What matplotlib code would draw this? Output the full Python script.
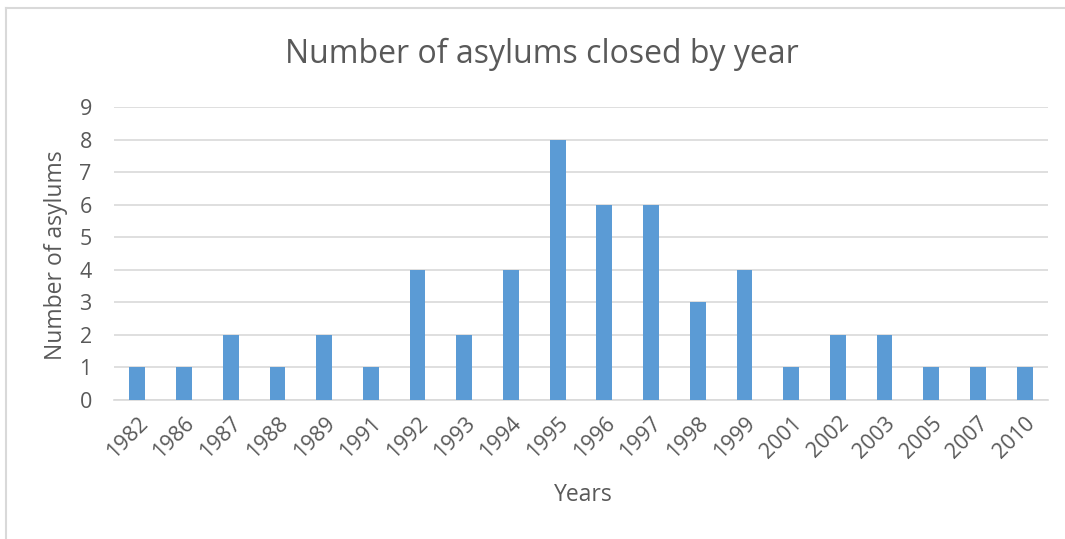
import matplotlib
matplotlib.use("Agg")
import matplotlib.pyplot as plt
from matplotlib.lines import Line2D

years = ["1982", "1986", "1987", "1988", "1989", "1991", "1992", "1993", "1994", "1995",
         "1996", "1997", "1998", "1999", "2001", "2002", "2003", "2005", "2007", "2010"]
counts = [1, 1, 2, 1, 2, 1, 4, 2, 4, 8, 6, 6, 3, 4, 1, 2, 2, 1, 1, 1]
yticks = [0, 1, 2, 3, 4, 5, 6, 7, 8, 9]

plt.rcParams['font.family'] = ['Open Sans', 'DejaVu Sans']
txt = '#595959'

fig = plt.figure(figsize=(10.65, 5.39), dpi=100)
ax = fig.add_axes([114/1065, 1-400/539, (1048-114)/1065, (400-107)/539])

x = list(range(len(years)))
ax.bar(x, counts, width=0.34, color='#5B9BD5', zorder=3)
ax.set_xlim(-0.5, len(years)-0.5)
ax.set_ylim(0, 9)
ax.set_yticks(yticks)
ax.set_yticklabels([str(v) for v in yticks], fontsize=15.5, color=txt)
ax.set_xticks(x)
ax.set_xticklabels(years, rotation=45, ha='right', va='top', rotation_mode='anchor',
                   fontsize=15.5, color=txt)
ax.tick_params(axis='both', length=0)
ax.tick_params(axis='y', pad=16)
ax.tick_params(axis='x', pad=9)
ax.grid(axis='y', color='#D9D9D9', linewidth=1.2, zorder=0)
for s in ['top', 'right', 'left']:
    ax.spines[s].set_visible(False)
ax.spines['bottom'].set_color('#D9D9D9')
ax.spines['bottom'].set_linewidth(1.2)

fig.text(56/1065, 1-255/539, "Number of asylums", fontsize=16.5, color=txt,
         ha='center', va='center', rotation=90)
fig.text(583/1065, 1-495/539, "Years", fontsize=16.5, color=txt, ha='center', va='center')
fig.text(542/1065, 1-54/539, "Number of asylums closed by year", fontsize=23, color=txt,
         ha='center', va='center')

fig.add_artist(Line2D([6/1065, 6/1065], [0, 1-8/539], color='#D9D9D9', linewidth=1.5,
                      transform=fig.transFigure))
fig.add_artist(Line2D([6/1065, 1], [1-8/539, 1-8/539], color='#D9D9D9', linewidth=1.5,
                      transform=fig.transFigure))

fig.savefig("out.png", dpi=100)
